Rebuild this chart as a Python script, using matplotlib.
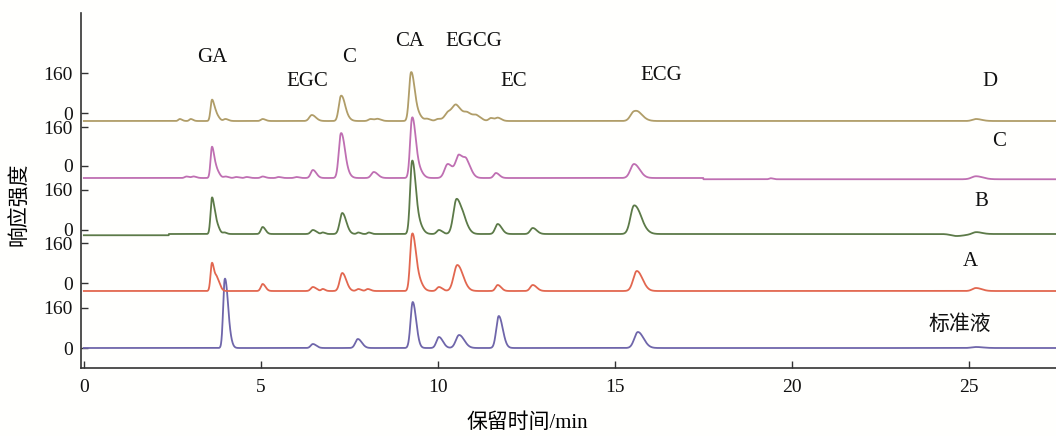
import numpy as np
import matplotlib
matplotlib.use("Agg")
import matplotlib.pyplot as plt

plt.rcParams['font.family'] = ['Liberation Serif', 'Noto Sans CJK SC']

# ---- data: peak tables per chromatogram (retention time, height, width) ----
std_rt = [3.98, 4.08, 6.47, 7.74, 9.29, 10.03, 10.60, 11.72, 15.65, 25.20]
std_h = [268, 60, 16, 36, 184, 44, 52, 128, 64, 4]
std_w = [0.045, 0.05, 0.06, 0.07, 0.06, 0.07, 0.09, 0.07, 0.10, 0.12]
std_base = 0

a_rt = [3.62, 3.76, 5.05, 6.47, 6.75, 7.30, 7.75, 8.02, 9.27, 9.40, 10.03, 10.55, 11.69, 12.68, 15.62, 25.20]
a_h = [112, 48, 28, 16, 8, 72, 8, 8, 212, 60, 16, 104, 24, 24, 80, 12]
a_w = [0.04, 0.05, 0.05, 0.06, 0.04, 0.07, 0.05, 0.05, 0.055, 0.08, 0.06, 0.10, 0.06, 0.07, 0.10, 0.10]
a_base = 228

b_rt = [3.62, 3.74, 3.97, 5.05, 6.47, 6.75, 7.30, 7.75, 8.05, 9.27, 9.40, 10.03, 10.53, 10.75, 11.69, 12.68, 15.54, 15.75, 24.65, 25.20]
b_h = [144, 40, 6, 28, 16, 6, 84, 6, 6, 276, 60, 16, 140, 30, 40, 24, 112, 20, -8, 8]
b_w = [0.04, 0.05, 0.04, 0.05, 0.06, 0.04, 0.07, 0.04, 0.04, 0.055, 0.08, 0.06, 0.09, 0.08, 0.07, 0.07, 0.10, 0.10, 0.15, 0.10]
b_base = 456

c_rt = [2.90, 3.10, 3.62, 3.75, 4.00, 4.30, 4.60, 5.05, 5.50, 6.00, 6.47, 7.26, 7.38, 8.19, 9.27, 9.40, 10.28, 10.60, 10.82, 11.64, 15.54, 19.40, 25.20]
c_h = [6, 6, 124, 30, 6, 4, 4, 6, 4, 4, 32, 172, 30, 24, 228, 50, 56, 88, 48, 20, 56, 4, 12]
c_w = [0.05, 0.05, 0.04, 0.05, 0.05, 0.05, 0.05, 0.05, 0.05, 0.05, 0.06, 0.06, 0.07, 0.07, 0.055, 0.08, 0.09, 0.09, 0.08, 0.06, 0.10, 0.04, 0.12]
c_base = 680

d_rt = [2.71, 3.02, 3.62, 3.74, 4.00, 5.05, 6.44, 7.26, 7.38, 8.10, 8.30, 9.24, 9.37, 9.70, 10.00, 10.30, 10.53, 10.85, 11.10, 11.50, 11.70, 15.54, 15.70, 25.20]
d_h = [8, 8, 84, 24, 8, 8, 24, 96, 20, 8, 8, 184, 40, 8, 8, 36, 52, 28, 16, 12, 12, 36, 12, 8]
d_w = [0.04, 0.04, 0.04, 0.05, 0.05, 0.05, 0.07, 0.06, 0.07, 0.06, 0.06, 0.055, 0.08, 0.06, 0.06, 0.10, 0.10, 0.10, 0.08, 0.06, 0.06, 0.10, 0.10, 0.10]
d_base = 908

# baseline steps (time, shift)
b_step = (2.4, -5)     # before 2.4 min the baseline is lower
c_step = (17.5, -5)    # after 17.5 min the baseline is lower

peak_names = ['GA', 'EGC', 'C', 'CA', 'EGCG', 'EC', 'ECG']
peak_name_x = [3.62, 6.32, 7.48, 9.20, 11.02, 12.15, 16.3]
peak_name_y = [1160, 1064, 1160, 1224, 1224, 1064, 1092]

trace_names = ['D', 'C', 'B', 'A', '标准液']
trace_name_x = [25.6, 25.85, 25.35, 25.05, 24.75]
trace_name_y = [1064, 824, 588, 344, 92]

ytick_vals = [0, 160, 260, 420, 472, 632, 728, 884, 940, 1100]
ytick_labels = ['0', '160', '0', '160', '0', '160', '0', '160', '0', '160']
xtick_vals = [0, 5, 10, 15, 20, 25]

colors = {'D': '#b09d68', 'C': '#bf6fb2', 'B': '#5c7a48', 'A': '#e2674f', 'std': '#6f66aa'}


def trace(t, rts, hs, ws):
    y = np.zeros_like(t)
    for r, h, w in zip(rts, hs, ws):
        sig = np.where(t < r, w, w * 1.6)
        y += h * np.exp(-0.5 * ((t - r) / sig) ** 2)
    return y


t = np.linspace(0, 27.5, 6000)

fig = plt.figure(figsize=(10.56, 4.36), dpi=100)
fig.patch.set_facecolor('#fffffd')
ax = fig.add_axes([81 / 1056, 68 / 436, 975 / 1056, 355 / 436])
ax.set_facecolor('#fffffd')

y_std = std_base + trace(t, std_rt, std_h, std_w)
y_a = a_base + trace(t, a_rt, a_h, a_w)
y_b = b_base + trace(t, b_rt, b_h, b_w) + np.where(t < b_step[0], b_step[1], 0)
y_c = c_base + trace(t, c_rt, c_h, c_w) + np.where(t > c_step[0], c_step[1], 0)
y_d = d_base + trace(t, d_rt, d_h, d_w)

lw = 1.3
ax.plot(t, y_std, color=colors['std'], lw=lw)
ax.plot(t, y_a, color=colors['A'], lw=lw)
ax.plot(t, y_b, color=colors['B'], lw=lw)
ax.plot(t, y_c, color=colors['C'], lw=lw)
ax.plot(t, y_d, color=colors['D'], lw=lw)

for n, x, y in zip(peak_names, peak_name_x, peak_name_y):
    ax.text(x, y, n, ha='center', va='center', fontsize=15, color='#111111')
for n, x, y in zip(trace_names, trace_name_x, trace_name_y):
    ax.text(x, y, n, ha='center', va='center', fontsize=15, color='#111111')

ax.set_xlim(-0.08, 27.46)
ax.set_ylim(-80, 1340)
ax.set_xticks(xtick_vals)
ax.set_xticklabels([str(v) for v in xtick_vals])
ax.set_yticks(ytick_vals)
ax.set_yticklabels(ytick_labels)
ax.tick_params(direction='in', length=5, width=1.0, color='#333333',
               labelsize=14, pad=6, labelcolor='#111111')
ax.tick_params(axis='x', pad=8)

for s in ['top', 'right']:
    ax.spines[s].set_visible(False)
for s in ['left', 'bottom']:
    ax.spines[s].set_linewidth(1.2)
    ax.spines[s].set_color('#333333')

ax.set_ylabel('响应强度', fontsize=15)
ax.yaxis.set_label_coords(-0.052, 0.46)
ax.set_xlabel('保留时间/min', fontsize=15)
ax.xaxis.set_label_coords(0.458, -0.128)

fig.savefig('out.png', dpi=100, facecolor=fig.get_facecolor())
